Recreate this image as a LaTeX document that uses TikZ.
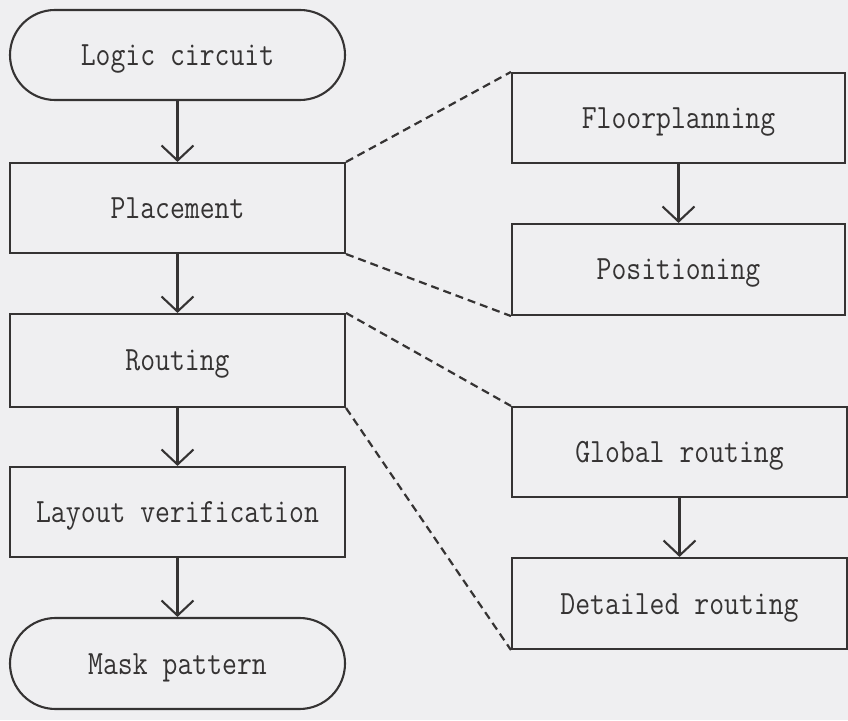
\documentclass[tikz,border=0pt]{standalone}
\usepackage{fontspec}
\usepackage{graphicx}
\usetikzlibrary{shapes.misc,arrows.meta}
\definecolor{ink}{HTML}{353333}
\definecolor{paper}{HTML}{EFEFF1}
% narrow typewriter labels
\newcommand\narrowlbl[1]{\scalebox{0.85}[1]{#1}}
\begin{document}
\begin{tikzpicture}[x=1pt,y=1pt,
  box/.style={draw=ink, line width=2.1pt, rectangle, minimum width=335pt,
    minimum height=90pt, inner sep=0pt, text=ink,
    text height=21pt, text depth=0pt,
    font=\ttfamily\fontsize{34}{40}\selectfont},
  term/.style={box, rounded rectangle},
  flow/.style={draw=ink, line width=2.1pt,
    -{Straight Barb[length=15pt,width=32pt,line width=2.1pt]}},
  link/.style={draw=ink, line width=2.2pt, dash pattern=on 8pt off 5pt}]
\fill[paper] (0,0) rectangle (848,720);
\useasboundingbox (0,0) rectangle (848,720);

% main design flow
\node[term] (logic)  at (177.5,665)   {\narrowlbl{Logic circuit}};
\node[box]  (place)  at (177.5,512)   {\narrowlbl{Placement}};
\node[box, minimum height=93pt] (route) at (177.5,359.5) {\narrowlbl{Routing}};
\node[box]  (verify) at (177.5,208)   {\narrowlbl{Layout verification}};
\node[term, minimum height=91pt] (mask) at (177.5,56.5) {\narrowlbl{Mask pattern}};

% placement sub-steps
\node[box, minimum width=333pt] (floor) at (678.5,602) {\narrowlbl{Floorplanning}};
\node[box, minimum width=333pt, minimum height=91pt] (pos) at (678.5,450.5) {\narrowlbl{Positioning}};

% routing sub-steps
\node[box] (global) at (679.5,268)   {\narrowlbl{Global routing}};
\node[box, minimum height=91pt] (detail) at (679.5,116.5) {\narrowlbl{Detailed routing}};

% arrows
\draw[flow] (logic.south)  -- (place.north);
\draw[flow] (place.south)  -- (route.north);
\draw[flow] (route.south)  -- (verify.north);
\draw[flow] (verify.south) -- (mask.north);
\draw[flow] (floor.south)  -- (pos.north);
\draw[flow] (global.south) -- (detail.north);

% expansion guides
\draw[link] (place.north east) -- (floor.north west);
\draw[link] (place.south east) -- (pos.south west);
\draw[link] (route.north east) -- (global.north west);
\draw[link] (route.south east) -- (detail.south west);
\end{tikzpicture}
\end{document}
